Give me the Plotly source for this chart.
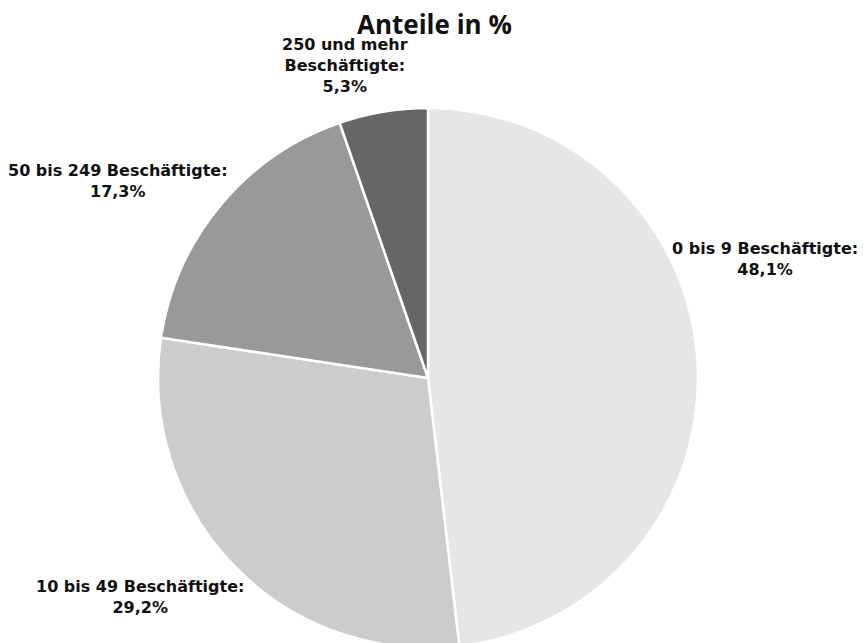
import plotly.graph_objects as go

categories = ["0 bis 9 Beschäftigte", "10 bis 49 Beschäftigte", "50 bis 249 Beschäftigte", "250 und mehr Beschäftigte"]
label_texts = ["0 bis 9 Beschäftigte:", "10 bis 49 Beschäftigte:", "50 bis 249 Beschäftigte:", "250 und mehr<br>Beschäftigte:"]
values = [48.1, 29.2, 17.3, 5.3]
colors = ["#e6e6e6", "#cccccc", "#999999", "#666666"]

W, H = 867, 643
OFF = 8  # page body margin
cx, cy, r = 428 - OFF, 378 - OFF, 270
fig = go.Figure()
fig.add_trace(go.Pie(
    labels=categories, values=values, sort=False, direction="clockwise", rotation=0,
    marker=dict(colors=colors, line=dict(color="white", width=2.5)),
    textinfo="none", hoverinfo="label+percent", showlegend=False,
    domain=dict(x=[(cx - r) / W, (cx + r) / W], y=[(H - cy - r) / H, (H - cy + r) / H]),
))

# label positions in pixels (center x, center y)
label_pos = [(757, 251), (132, 589), (110, 173), (337, 58)]
annotations = []
for txt, v, (px, py) in zip(label_texts, values, label_pos):
    t = f"{txt}<br>{str(v).replace('.', ',')}%"
    t = "<b>" + t.replace("<br>", "</b><br><b>") + "</b>"
    annotations.append(dict(
        x=px / W, y=1 - py / H, xref="paper", yref="paper", showarrow=False,
        text=t, align="center", borderpad=0,
        font=dict(family="DejaVu Sans", size=16, color="#111111"),
        xanchor="center", yanchor="middle",
    ))
annotations.append(dict(
    x=426 / W, y=1 - 16 / H, xref="paper", yref="paper", showarrow=False,
    text="<b>Anteile in %</b>", borderpad=0,
    font=dict(family="Open Sans", size=26, color="#111111"),
    xanchor="center", yanchor="middle",
))
fig.update_layout(
    width=W, height=H, margin=dict(l=0, r=0, t=0, b=0),
    paper_bgcolor="white", plot_bgcolor="white", annotations=annotations,
    font=dict(family="DejaVu Sans"),
)
fig.write_html("out.html")
